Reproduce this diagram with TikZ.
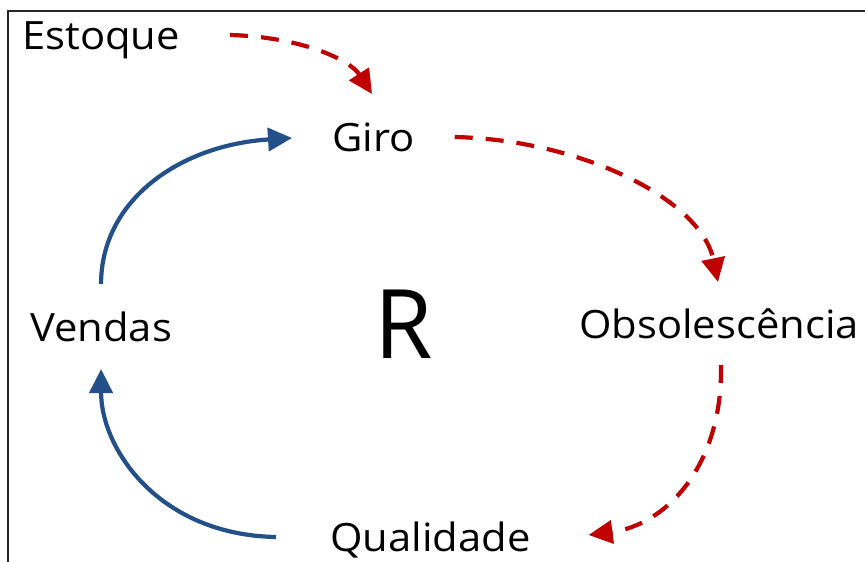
\documentclass[tikz,border=0pt]{standalone}
\usepackage{fontspec}
\setmainfont{Open Sans}[FakeStretch=1.07]
\usetikzlibrary{arrows.meta,calc}
\definecolor{cldred}{RGB}{192,0,0}
\definecolor{cldblue}{RGB}{36,80,138}
\begin{document}
\begin{tikzpicture}[x=1pt,y=-1pt,
  lbl/.style={inner sep=0pt,anchor=base west,font=\fontsize{39}{47}\selectfont},
  redlink/.style={draw=cldred,line width=4.2pt,dash pattern=on 18pt off 13pt,-{Triangle[length=24pt,width=23pt]}},
  bluelink/.style={draw=cldblue,line width=4.2pt,-{Triangle[length=24pt,width=23pt]}}]
\useasboundingbox (0,0) rectangle (865,562);
\fill[white] (0,0) rectangle (865,562);
\draw[line width=1.8pt,black!85] (8,570) -- (8,11) -- (870,11);
\node[lbl] (estoque) at (22,49) {Estoque};
\node[lbl] (giro) at (332,151) {Giro};
\node[lbl] (vendas) at (30,341) {Vendas};
\node[lbl] (obs) at (579,338) {Obsolescência};
\node[lbl] (qual) at (330,551) {Qualidade};
\node[inner sep=0pt,anchor=base west,font=\fontsize{96}{108}\selectfont,xscale=0.92] (r) at (374,358) {R};
\draw[redlink] ($(estoque.base east)+(50,-14)$) .. controls +(72,2) and +(-22,-34) .. ($(giro.base west)+(40,-57)$);
\draw[redlink] ($(giro.base east)+(40,-14)$) .. controls +(128,3) and +(-17,-82) .. ($(obs.base)+(-1,-56)$);
\draw[redlink] ($(obs.base)+(2,27)$) .. controls +(2,100) and +(78,-10) .. ($(qual.base east)+(58,-16)$);
\draw[bluelink] ($(qual.base west)+(-54,-14)$) .. controls +(-116,-2) and +(0,81) .. ($(vendas.base)+(0,28)$);
\draw[bluelink] ($(vendas.base)+(0,-57)$) .. controls +(0,-84) and +(-112,7) .. ($(giro.base west)+(-40,-13)$);
\end{tikzpicture}
\end{document}
